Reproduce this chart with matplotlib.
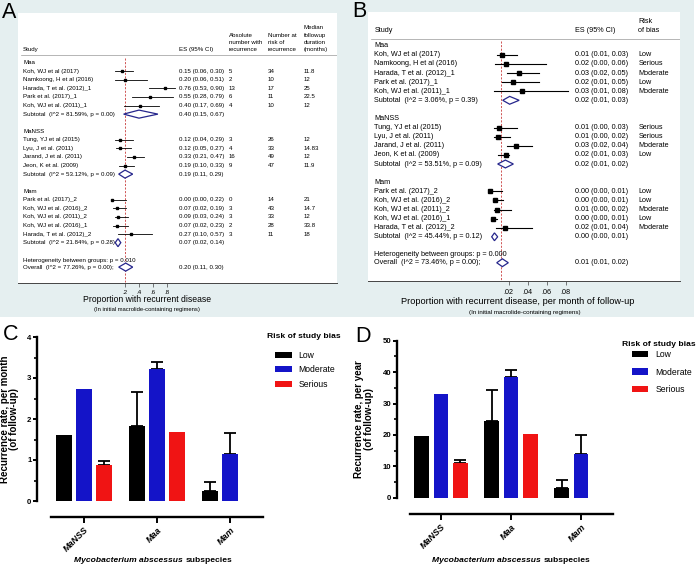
import numpy as np
import matplotlib
matplotlib.use("Agg")
import matplotlib.pyplot as plt
from matplotlib.patches import Rectangle, Patch, Polygon
from matplotlib.offsetbox import TextArea, HPacker, AnnotationBbox

plt.rcParams['font.family'] = ['Liberation Sans', 'DejaVu Sans']

nan = np.nan

# ------------------------------------------------------------------ data
forest_groups = ["Maa", "MaNSS", "Mam"]
group_sizes = [5, 4, 5]
studies = ["Koh, WJ et al (2017)", "Namkoong, H et al (2016)", "Harada, T et al. (2012)_1",
           "Park et al. (2017)_1", "Koh, WJ et al. (2011)_1",
           "Tung, YJ et al (2015)", "Lyu, J et al. (2011)", "Jarand, J et al. (2011)",
           "Jeon, K et al. (2009)",
           "Park et al. (2017)_2", "Koh, WJ et al. (2016)_2", "Koh, WJ et al. (2011)_2",
           "Koh, WJ et al. (2016)_1", "Harada, T et al. (2012)_2"]

# Panel A (proportion with recurrence)
A_es_text = ["0.15 (0.06, 0.30)", "0.20 (0.06, 0.51)", "0.76 (0.53, 0.90)", "0.55 (0.28, 0.79)",
             "0.40 (0.17, 0.69)", "0.12 (0.04, 0.29)", "0.12 (0.05, 0.27)", "0.33 (0.21, 0.47)",
             "0.19 (0.10, 0.33)", "0.00 (0.00, 0.22)", "0.07 (0.02, 0.19)", "0.09 (0.03, 0.24)",
             "0.07 (0.02, 0.23)", "0.27 (0.10, 0.57)"]
A_abs = ["5", "2", "13", "6", "4", "3", "4", "16", "9", "0", "3", "3", "2", "3"]
A_risk_n = ["34", "10", "17", "11", "10", "26", "33", "49", "47", "14", "43", "33", "28", "11"]
A_median = ["11.8", "12", "25", "22.5", "12", "12", "14.83", "12", "11.9", "21", "14.7", "12", "33.8", "18"]
A_es = [0.15, 0.20, 0.77, 0.56, 0.41, 0.13, 0.13, 0.33, 0.20, 0.02, 0.08, 0.095, 0.08, 0.29]
A_lo = [0.06, 0.06, 0.54, 0.30, 0.19, 0.06, 0.07, 0.23, 0.12, 0.01, 0.03, 0.06, 0.03, 0.10]
A_hi = [0.31, 0.51, 0.91, 0.88, 0.69, 0.31, 0.28, 0.47, 0.33, 0.21, 0.21, 0.24, 0.24, 0.58]
A_sub_text = ["Subtotal  (I^2 = 81.59%, p = 0.00)", "Subtotal  (I^2 = 53.12%, p = 0.09)",
              "Subtotal  (I^2 = 21.84%, p = 0.28)"]
A_sub_es_text = ["0.40 (0.15, 0.67)", "0.19 (0.11, 0.29)", "0.07 (0.02, 0.14)"]
A_sub_es = [0.40, 0.20, 0.10]
A_sub_lo = [0.18, 0.11, 0.06]
A_sub_hi = [0.67, 0.31, 0.14]
A_het_text = "Heterogeneity between groups: p = 0.010"
A_overall_text = "Overall  (I^2 = 77.26%, p = 0.00);"
A_overall_es_text = "0.20 (0.11, 0.30)"
A_overall_es, A_overall_lo, A_overall_hi = 0.21, 0.11, 0.31
A_ref = 0.20
A_ticks = [0.2, 0.4, 0.6, 0.8]
A_ticklabels = [".2", ".4", ".6", ".8"]

# Panel B (proportion per month of follow-up)
B_es_text = ["0.01 (0.01, 0.03)", "0.02 (0.00, 0.06)", "0.03 (0.02, 0.05)", "0.02 (0.01, 0.05)",
             "0.03 (0.01, 0.08)", "0.01 (0.00, 0.03)", "0.01 (0.00, 0.02)", "0.03 (0.02, 0.04)",
             "0.02 (0.01, 0.03)", "0.00 (0.00, 0.01)", "0.00 (0.00, 0.01)", "0.01 (0.00, 0.02)",
             "0.00 (0.00, 0.01)", "0.02 (0.01, 0.04)"]
B_bias = ["Low", "Serious", "Moderate", "Low", "Moderate", "Serious", "Serious", "Moderate",
          "Low", "Low", "Low", "Moderate", "Low", "Moderate"]
B_es = [0.0126, 0.0172, 0.0308, 0.0249, 0.0337, 0.0098, 0.0088, 0.0274, 0.0168,
        0.0003, 0.0056, 0.0080, 0.0032, 0.0160]
B_lo = [0.0074, 0.0056, 0.0186, 0.0133, 0.0046, 0.0046, 0.0046, 0.0179, 0.0091,
        0.0003, 0.0032, 0.0046, 0.0010, 0.0063]
B_hi = [0.0292, 0.0593, 0.0520, 0.0520, 0.0820, 0.0284, 0.0214, 0.0442, 0.0207,
        0.0126, 0.0140, 0.0220, 0.0080, 0.0440]
B_sub_text = ["Subtotal  (I^2 = 3.06%, p = 0.39)", "Subtotal  (I^2 = 53.51%, p = 0.09)",
              "Subtotal  (I^2 = 45.44%, p = 0.12)"]
B_sub_es_text = ["0.02 (0.01, 0.03)", "0.02 (0.01, 0.02)", "0.00 (0.00, 0.01)"]
B_sub_es = [0.021, 0.0165, 0.005]
B_sub_lo = [0.0137, 0.0084, 0.0021]
B_sub_hi = [0.031, 0.0249, 0.0084]
B_het_text = "Heterogeneity between groups: p = 0.000"
B_overall_text = "Overall  (I^2 = 73.46%, p = 0.00);"
B_overall_es_text = "0.01 (0.01, 0.02)"
B_overall_es, B_overall_lo, B_overall_hi = 0.0133, 0.0074, 0.0196
B_ref = 0.012
B_ticks = [0.02, 0.04, 0.06, 0.08]
B_ticklabels = [".02", ".04", ".06", ".08"]

# Panels C and D (bar charts)
bar_groups = ["MaNSS", "Maa", "Mam"]
bias_levels = ["Low", "Moderate", "Serious"]
C_low = [1.62, 1.84, 0.24]
C_low_err = [nan, 0.83, 0.22]
C_mod = [2.72, 3.21, 1.15]
C_mod_err = [nan, 0.19, 0.51]
C_ser = [0.89, 1.68, nan]
C_ser_err = [0.09, nan, nan]
D_low = [19.6, 24.4, 3.0]
D_low_err = [nan, 9.9, 2.6]
D_mod = [32.9, 38.5, 13.9]
D_mod_err = [nan, 2.3, 6.2]
D_ser = [10.9, 20.3, nan]
D_ser_err = [1.1, nan, nan]

# ------------------------------------------------------------------ figure
W, H = 696, 566
fig = plt.figure(figsize=(W / 100, H / 100), dpi=100)
BG = '#e5eff0'
NAVY = '#26268c'
RED_LINE = '#c83a3a'


def fx(px):
    return px / W


def fy(py):
    return 1 - py / H


def ax_px(x0, y0, x1, y1):
    return fig.add_axes([fx(x0), fy(y1), (x1 - x0) / W, (y1 - y0) / H])


fig.add_artist(Rectangle((0, fy(317)), fx(345), 317 / H, transform=fig.transFigure,
                         facecolor=BG, edgecolor='none', zorder=0))
fig.add_artist(Rectangle((fx(345), fy(317)), fx(694) - fx(345), 317 / H,
                         transform=fig.transFigure, facecolor=BG, edgecolor='none', zorder=0))


def forest(box, x0px, xs, row0, rp, fs, tickfs, lw, ms, dh,
           es, lo, hi, es_text, extra_cols, sub_text, sub_es_text, sub_es, sub_lo, sub_hi,
           het_text, ov_text, ov_es_text, ov_es, ov_lo, ov_hi, ref, ticks, ticklabels,
           name_px, es_px, headers, header_bottom_px, header_line_px, het_r, ov_r, ref_top_px,
           header_ls):
    bx0, by0, bx1, by1 = box
    ax = ax_px(bx0, by0, bx1, by1)
    ax.set_facecolor('white')
    ax.set_xlim((bx0 - x0px) / xs, (bx1 - x0px) / xs)
    ax.set_ylim((by1 - row0) / rp, (by0 - row0) / rp)

    def col(px):
        return (px - x0px) / xs

    def row(py):
        return (py - row0) / rp

    for s in ['top', 'right', 'left']:
        ax.spines[s].set_visible(False)
    ax.spines['bottom'].set_color('#444444')
    ax.spines['bottom'].set_linewidth(0.7)
    ax.set_yticks([])
    ax.set_xticks(ticks)
    ax.set_xticklabels(ticklabels, fontsize=tickfs)
    ax.tick_params(axis='x', length=3, width=0.5, color='#444444', pad=2.5)

    # headers
    for txt, px in headers:
        ax.text(col(px), row(header_bottom_px), txt, fontsize=fs, ha='left', va='bottom',
                linespacing=header_ls)
    xl = ax.get_xlim()
    ax.plot([xl[0] + 0.01 * (xl[1] - xl[0]), xl[1]],
            [row(header_line_px)] * 2, color='#999999', lw=0.5)

    # reference line
    ax.plot([ref, ref], [row(ref_top_px), ax.get_ylim()[0]], color=RED_LINE, lw=0.6,
            dashes=(2.5, 1.8), zorder=1)

    def diamond(r, a, m, b):
        ax.add_patch(Polygon([(a, r), (m, r - dh), (b, r), (m, r + dh)], closed=True,
                             facecolor='white', edgecolor=NAVY, lw=0.9, zorder=3))

    r = 0
    k = 0
    for g, (gname, n) in enumerate(zip(forest_groups, group_sizes)):
        ax.text(col(name_px), r, gname, fontsize=fs, va='center', ha='left')
        for j in range(n):
            rr = r + 1 + j
            ax.text(col(name_px), rr, studies[k], fontsize=fs, va='center', ha='left')
            ax.plot([lo[k], hi[k]], [rr, rr], color='black', lw=lw, zorder=2)
            ax.plot(es[k], rr, marker='s', ms=ms, color='black', zorder=3)
            ax.text(col(es_px), rr, es_text[k], fontsize=fs, va='center', ha='left')
            for vals, px in extra_cols:
                ax.text(col(px), rr, vals[k], fontsize=fs, va='center', ha='left')
            k += 1
        rs = r + 1 + n
        ax.text(col(name_px), rs, sub_text[g], fontsize=fs, va='center', ha='left')
        ax.text(col(es_px), rs, sub_es_text[g], fontsize=fs, va='center', ha='left')
        diamond(rs, sub_lo[g], sub_es[g], sub_hi[g])
        r += n + 3
    ax.text(col(name_px), het_r, het_text, fontsize=fs, va='center', ha='left', zorder=4)
    ax.text(col(name_px), ov_r, ov_text, fontsize=fs, va='center', ha='left')
    ax.text(col(es_px), ov_r, ov_es_text, fontsize=fs, va='center', ha='left')
    diamond(ov_r, ov_lo, ov_es, ov_hi)
    return ax


# Panel A
forest(box=(18, 12.5, 337, 282.5), x0px=111, xs=70, row0=62.7, rp=8.57, fs=4.4, tickfs=4.4,
       lw=0.6, ms=2.0, dh=0.47,
       es=A_es, lo=A_lo, hi=A_hi, es_text=A_es_text,
       extra_cols=[(A_abs, 229), (A_risk_n, 268), (A_median, 304)],
       sub_text=A_sub_text, sub_es_text=A_sub_es_text, sub_es=A_sub_es, sub_lo=A_sub_lo,
       sub_hi=A_sub_hi, het_text=A_het_text, ov_text=A_overall_text,
       ov_es_text=A_overall_es_text, ov_es=A_overall_es, ov_lo=A_overall_lo,
       ov_hi=A_overall_hi, ref=A_ref, ticks=A_ticks, ticklabels=A_ticklabels,
       name_px=23, es_px=179,
       headers=[("Study", 23), ("ES (95% CI)", 179), ("Absolute\nnumber with\nrecurrence", 229),
                ("Number at\nrisk of\nrecurrence", 268),
                ("Median\nfollowup\nduration\n(months)", 304)],
       header_bottom_px=52.5, header_line_px=55.5, het_r=23.1, ov_r=23.85, ref_top_px=58,
       header_ls=1.6)

# Panel B
forest(box=(368.3, 11.7, 680, 281), x0px=489.7, xs=950, row0=45.7, rp=9.1, fs=5.2, tickfs=5.2,
       lw=0.8, ms=2.6, dh=0.43,
       es=B_es, lo=B_lo, hi=B_hi, es_text=B_es_text,
       extra_cols=[(B_bias, 638.3)],
       sub_text=B_sub_text, sub_es_text=B_sub_es_text, sub_es=B_sub_es, sub_lo=B_sub_lo,
       sub_hi=B_sub_hi, het_text=B_het_text, ov_text=B_overall_text,
       ov_es_text=B_overall_es_text, ov_es=B_overall_es, ov_lo=B_overall_lo,
       ov_hi=B_overall_hi, ref=B_ref, ticks=B_ticks, ticklabels=B_ticklabels,
       name_px=374.3, es_px=575,
       headers=[("Study", 374.3), ("ES (95% CI)", 575), ("Risk\nof bias", 638.3)],
       header_bottom_px=33.5, header_line_px=39.3, het_r=22.9, ov_r=23.85, ref_top_px=41,
       header_ls=1.3)

# axis titles of forest plots
fig.text(fx(147), fy(299), "Proportion with recurrent disease", fontsize=6.2,
         ha='center', va='center')
fig.text(fx(147), fy(310), "(In initial macrolide-containing regimens)", fontsize=4.2,
         ha='center', va='center')
fig.text(fx(518), fy(301.3), "Proportion with recurrent disease, per month of follow-up",
         fontsize=6.7, ha='center', va='center')
fig.text(fx(525), fy(312.3), "(In initial macrolide-containing regimens)", fontsize=4.5,
         ha='center', va='center')

# panel letters
for letter, xp, yb in [("A", 2, 18), ("B", 352.5, 17), ("C", 3, 339.5), ("D", 355, 341.7)]:
    fig.text(fx(xp), fy(yb), letter, fontsize=15.5, ha='left', va='baseline')

BAR_COLORS = ['#000000', '#1414c8', '#f01414']


def bars(box_px, xlim, ylim, major, minor, vals, errs, ylabel, label_x, legend_anchor,
         title_px, labelspacing, xlabel_center):
    x0, y0, x1, y1 = box_px
    ax = ax_px(x0, y0, x1, y1)
    ax.set_facecolor('none')
    ax.set_xlim(*xlim)
    ax.set_ylim(*ylim)
    xpos = np.arange(len(bar_groups))
    off = 0.274
    bw = 0.21
    handles = []
    for k, (v, e, c) in enumerate(zip(vals, errs, BAR_COLORS)):
        v = np.asarray(v, float)
        e = np.asarray(e, float)
        m = ~np.isnan(v)
        ax.bar(xpos[m] + (k - 1) * off, v[m], width=bw, color=c, zorder=2)
        em = m & ~np.isnan(e)
        if em.any():
            ax.errorbar(xpos[em] + (k - 1) * off, v[em], yerr=[np.zeros(em.sum()), e[em]],
                        fmt='none', ecolor='black', elinewidth=1.3, capsize=4.2,
                        capthick=1.3, zorder=1)
        handles.append(Patch(facecolor=c, edgecolor='none'))
    for s in ['top', 'right']:
        ax.spines[s].set_visible(False)
    ax.spines['left'].set_linewidth(1.7)
    ax.spines['bottom'].set_linewidth(1.7)
    ax.spines['bottom'].set_position(('outward', 11.7))
    ax.spines['bottom'].set_bounds(-0.45, 2.45)
    ax.set_yticks(np.arange(ylim[0], ylim[1] + major / 2, major))
    ax.set_yticks(np.arange(ylim[0] + minor, ylim[1], major), minor=True)
    ax.tick_params(axis='y', which='major', length=3.2, width=1.4, labelsize=5.6, pad=0.8)
    ax.tick_params(axis='y', which='minor', length=2.2, width=1.2)
    for lab in ax.get_yticklabels():
        lab.set_fontweight('bold')
    ax.set_xticks(xpos)
    ax.set_xticklabels(bar_groups, rotation=45, ha='right', rotation_mode='anchor',
                       fontsize=6.5, fontweight='bold', fontstyle='italic')
    ax.tick_params(axis='x', length=4, width=1.4, pad=2)
    ax.set_ylabel(ylabel, fontsize=7.0, fontweight='bold', linespacing=0.98)
    ax.yaxis.set_label_coords(label_x, 0.5)
    ax.legend(handles, bias_levels, loc='upper left', bbox_to_anchor=legend_anchor,
              bbox_transform=fig.transFigure, frameon=False, borderpad=0,
              borderaxespad=0, handlelength=1.95, handleheight=0.75,
              handletextpad=0.8, labelspacing=labelspacing, fontsize=6.2)
    fig.text(fx(title_px[0]), fy(title_px[1]), "Risk of study bias", fontsize=6.1,
             fontweight='bold', ha='left', va='center')
    packer = HPacker(children=[
        TextArea("Mycobacterium abscessus", textprops=dict(fontsize=6.1, fontweight='bold',
                                                          fontstyle='italic')),
        TextArea("subspecies", textprops=dict(fontsize=6.1, fontweight='bold'))],
        align='baseline', pad=0, sep=2.2)
    ab = AnnotationBbox(packer, (fx(xlabel_center[0]), fy(xlabel_center[1])),
                        xycoords='figure fraction', frameon=False, box_alignment=(0.5, 0.5),
                        annotation_clip=False)
    ax.add_artist(ab)
    return ax


bars((37, 337, 263, 501), (-0.644, 2.452), (0, 4), 1, 0.5,
     [C_low, C_mod, C_ser], [C_low_err, C_mod_err, C_ser_err],
     "Recurrence rate, per month\n(of follow-up)", -0.078,
     (fx(275), fy(351)), (267, 336), 0.62, (153.5, 560))

bars((396.7, 340.7, 613, 497.7), (-0.633, 2.457), (0, 50), 10, 5,
     [D_low, D_mod, D_ser], [D_low_err, D_mod_err, D_ser_err],
     "Recurrence rate, per year\n(of follow-up)", -0.105,
     (fx(631.7), fy(350)), (621.7, 344.3), 1.0, (510.8, 560))

fig.savefig("out.png", dpi=100)
